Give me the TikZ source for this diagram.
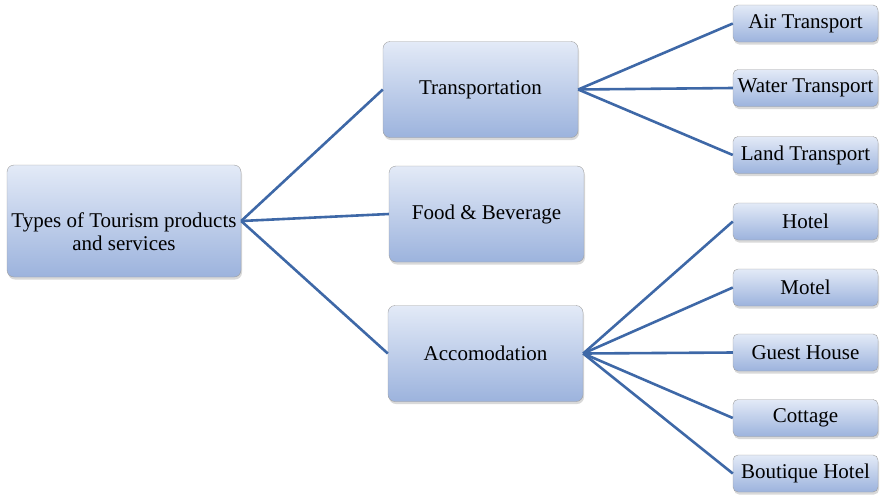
\documentclass[tikz,border=0pt]{standalone}
\usepackage{fontspec}
\setmainfont{Liberation Serif}
\usetikzlibrary{positioning,shadows}
\usepackage{xcolor}
\definecolor{boxtop}{HTML}{E3EAF7}
\definecolor{boxbot}{HTML}{9CB3DD}
\definecolor{linkblue}{HTML}{3E68A7}

\begin{document}
\begin{tikzpicture}[x=1pt,y=-1pt,font=\fontsize{21}{23.5}\selectfont]
\tikzset{catbox/.style={draw=gray!75, rounded corners=7pt, top color=boxtop, bottom color=boxbot,
    drop shadow={opacity=0.3, shadow xshift=1pt, shadow yshift=-2.5pt}, align=center, inner sep=1pt},
  leafbox/.style={catbox, rounded corners=5pt, minimum width=145pt, minimum height=37pt},
  midbox/.style={catbox, minimum width=195pt, minimum height=96pt},
  link/.style={draw=linkblue, line width=2.6pt}}
\useasboundingbox (0,0) rectangle (883,496);

\node[catbox, minimum width=234pt, minimum height=112pt] (root) at (124,221) {\rule{0pt}{36pt}Types of Tourism products\\and services};

\node[midbox] (trans) at (480.5,89.5) {Transportation};
\node[midbox] (food) at (486.5,214) {Food \& Beverage};
\node[midbox] (accom) at (485.5,353.5) {Accomodation};

\node[leafbox] (air) at (805.5,23.5) {Air Transport};
\node[leafbox] (water) at (805.5,88) {Water Transport};
\node[leafbox] (land) at (805.5,155) {Land Transport};

\node[leafbox] (hotel) at (805.5,221.5) {Hotel};
\node[leafbox] (motel) at (805.5,287.5) {Motel};
\node[leafbox] (guest) at (805.5,352.5) {Guest House};
\node[leafbox] (cottage) at (805.5,418) {Cottage};
\node[leafbox] (boutique) at (805.5,473.5) {Boutique Hotel};

\draw[link] (root.east) -- (trans.west);
\draw[link] (root.east) -- (food.west);
\draw[link] (root.east) -- (accom.west);

\draw[link] (trans.east) -- (air.west);
\draw[link] (trans.east) -- (water.west);
\draw[link] (trans.east) -- (land.west);

\draw[link] (accom.east) -- (hotel.west);
\draw[link] (accom.east) -- (motel.west);
\draw[link] (accom.east) -- (guest.west);
\draw[link] (accom.east) -- (cottage.west);
\draw[link] (accom.east) -- (boutique.west);
\end{tikzpicture}
\end{document}
